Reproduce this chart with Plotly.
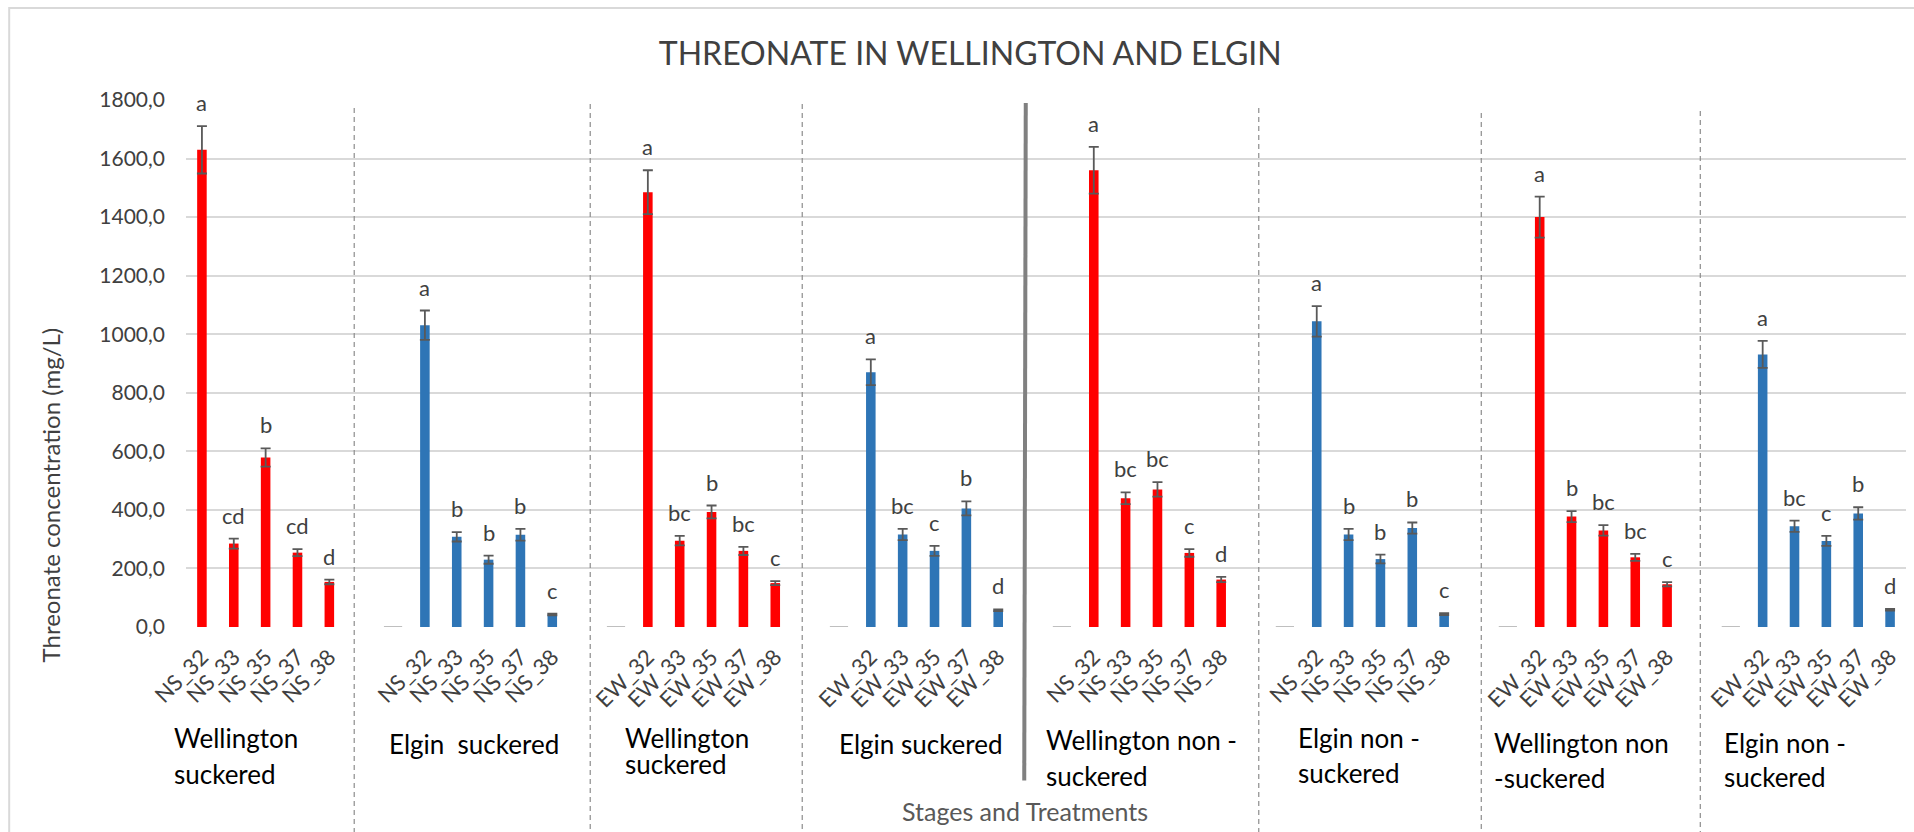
import plotly.graph_objects as go

# ---- data -------------------------------------------------------------
stages_ns = ["NS_32", "NS_33", "NS_35", "NS_37", "NS_38"]
stages_ew = ["EW_32", "EW_33", "EW_35", "EW_37", "EW_38"]

group_labels = [
    ["Wellington", "suckered"],
    ["Elgin  suckered"],
    ["Wellington", "suckered"],
    ["Elgin suckered"],
    ["Wellington non -", "suckered"],
    ["Elgin non -", "suckered"],
    ["Wellington non", "-suckered"],
    ["Elgin non -", "suckered"],
]
group_stages = [stages_ns, stages_ns, stages_ew, stages_ew,
                stages_ns, stages_ns, stages_ew, stages_ew]
group_colors = ["#FF0000", "#2E75B6", "#FF0000", "#2E75B6",
                "#FF0000", "#2E75B6", "#FF0000", "#2E75B6"]

wellington_suckered_ns = [1630, 285, 579, 254, 154]
elgin_suckered_ns = [1031, 308, 230, 315, 43]
wellington_suckered_ew = [1485, 295, 393, 260, 150]
elgin_suckered_ew = [870, 316, 260, 405, 57]
wellington_non_ns = [1560, 440, 470, 253, 162]
elgin_non_ns = [1044, 316, 232, 338, 44]
wellington_non_ew = [1400, 377, 330, 238, 146]
elgin_non_ew = [931, 344, 294, 388, 59]

wellington_suckered_ns_err = [81, 17, 31, 12, 8]
elgin_suckered_ns_err = [50, 16, 14, 20, 3]
wellington_suckered_ew_err = [75, 16, 22, 14, 7]
elgin_suckered_ew_err = [44, 19, 17, 24, 3]
wellington_non_ns_err = [80, 20, 25, 13, 9]
elgin_non_ns_err = [52, 19, 15, 19, 3]
wellington_non_ew_err = [70, 19, 18, 12, 7]
elgin_non_ew_err = [46, 19, 17, 21, 3]

wellington_suckered_ns_sig = ["a", "cd", "b", "cd", "d"]
elgin_suckered_ns_sig = ["a", "b", "b", "b", "c"]
wellington_suckered_ew_sig = ["a", "bc", "b", "bc", "c"]
elgin_suckered_ew_sig = ["a", "bc", "c", "b", "d"]
wellington_non_ns_sig = ["a", "bc", "bc", "c", "d"]
elgin_non_ns_sig = ["a", "b", "b", "b", "c"]
wellington_non_ew_sig = ["a", "b", "bc", "bc", "c"]
elgin_non_ew_sig = ["a", "bc", "c", "b", "d"]

group_values = [wellington_suckered_ns, elgin_suckered_ns, wellington_suckered_ew,
                elgin_suckered_ew, wellington_non_ns, elgin_non_ns,
                wellington_non_ew, elgin_non_ew]
group_errors = [wellington_suckered_ns_err, elgin_suckered_ns_err,
                wellington_suckered_ew_err, elgin_suckered_ew_err,
                wellington_non_ns_err, elgin_non_ns_err,
                wellington_non_ew_err, elgin_non_ew_err]
group_sig = [wellington_suckered_ns_sig, elgin_suckered_ns_sig,
             wellington_suckered_ew_sig, elgin_suckered_ew_sig,
             wellington_non_ns_sig, elgin_non_ns_sig,
             wellington_non_ew_sig, elgin_non_ew_sig]

y_ticks = [0, 200, 400, 600, 800, 1000, 1200, 1400, 1600, 1800]

# ---- layout geometry ---------------------------------------------------
W, H = 1914, 832
M_L, M_R, M_T, M_B = 185.8, 8.3, 100.0, 205.3
PW, PH = W - M_L - M_R, H - M_T - M_B
SLOTS_PER_GROUP = 7          # 5 stages + 2 empty category slots
FONT = "Lato"


def px_x(px):
    return (px - M_L) / PW


def px_y(py):
    return (M_T + PH - py) / PH


fig = go.Figure()

tickvals, ticktext = [], []
empty_slots = []
annotations = []

for g, vals in enumerate(group_values):
    start = g * SLOTS_PER_GROUP
    xs = list(range(start, start + len(vals)))
    tickvals += xs
    ticktext += group_stages[g]
    if g > 0:
        empty_slots.append(start - 1)
    fig.add_trace(go.Bar(
        x=xs, y=vals, width=0.3,
        marker=dict(color=group_colors[g], line=dict(width=0)),
        error_y=dict(type="data", array=group_errors[g], visible=True,
                     color="#595959", thickness=1.8, width=5),
        showlegend=False, hoverinfo="x+y",
    ))
    for x, v, e, s in zip(xs, vals, group_errors[g], group_sig[g]):
        annotations.append(dict(
            x=x, y=v + e, xref="x", yref="y", text=s, showarrow=False,
            yanchor="bottom", yshift=8,
            font=dict(family=FONT, size=22, color="#404040"),
        ))

# faint zero caps on the empty category slots
fig.add_trace(go.Scatter(
    x=empty_slots, y=[0] * len(empty_slots), mode="markers",
    marker=dict(symbol="line-ew", size=13,
                line=dict(color="#BFBFBF", width=2)),
    showlegend=False, hoverinfo="skip",
))

# group captions under the stage labels: (left px, cap-centre px of each line)
caption_pos = [
    (171.7, [737.5, 774.0]),
    (386.7, [744.0]),
    (622.8, [737.5, 763.5]),
    (836.6, [744.0]),
    (1044.2, [740.0, 776.0]),
    (1296.0, [737.5, 772.5]),
    (1491.9, [742.5, 778.0]),
    (1722.0, [742.5, 777.0]),
]
for lines, (left, ys) in zip(group_labels, caption_pos):
    for line, yc in zip(lines, ys):
        annotations.append(dict(
            x=px_x(left), y=px_y(yc), xref="paper", yref="paper",
            text=line, showarrow=False, xanchor="left", yanchor="middle",
            font=dict(family=FONT, size=26, color="#000000"),
        ))

annotations.append(dict(
    x=px_x(50), y=px_y(495), xref="paper", yref="paper",
    text="Threonate concentration (mg/L)", textangle=-90, showarrow=False,
    xanchor="center", yanchor="middle",
    font=dict(family=FONT, size=24, color="#404040"),
))
annotations.append(dict(
    x=px_x(1025), y=px_y(811), xref="paper", yref="paper",
    text="Stages and Treatments", showarrow=False,
    xanchor="center", yanchor="middle",
    font=dict(family=FONT, size=25, color="#595959"),
))

# separators between groups (px positions), thick one splits the treatments
dashed_px = [354.0, 590.0, 802.0, 1258.5, 1481.0, 1700.0]
dashed_top = [108, 104, 104, 108, 113, 111]
shapes = [
    dict(type="rect", xref="paper", yref="paper",
         x0=px_x(9), x1=px_x(1930), y0=px_y(8), y1=px_y(850),
         line=dict(color="#D9D9D9", width=2), layer="below"),
]
for xp, top in zip(dashed_px, dashed_top):
    shapes.append(dict(type="line", xref="paper", yref="paper",
                       x0=px_x(xp), x1=px_x(xp), y0=px_y(top), y1=px_y(832),
                       line=dict(color="#8C8C8C", width=1.2, dash="5px,4px")))
shapes.append(dict(type="line", xref="paper", yref="paper",
                   x0=px_x(1025.5), x1=px_x(1024), y0=px_y(103), y1=px_y(780),
                   line=dict(color="#808080", width=4)))

fig.update_layout(
    width=W, height=H,
    margin=dict(l=M_L, r=M_R, t=M_T, b=M_B, autoexpand=False),
    paper_bgcolor="white", plot_bgcolor="white",
    barmode="overlay",
    separators=",.",
    font=dict(family=FONT, color="#404040"),
    title=dict(text="THREONATE IN WELLINGTON AND ELGIN",
               x=px_x(970), xref="paper", xanchor="center",
               y=1 - 53.5 / H, yref="container", yanchor="middle",
               font=dict(family=FONT, size=32, color="#404040")),
    xaxis=dict(range=[-0.5, len(group_values) * SLOTS_PER_GROUP - 2.5],
               tickmode="array", tickvals=tickvals, ticktext=ticktext,
               tickangle=-45, showgrid=False, zeroline=False, showline=False,
               ticks="", ticklabelstandoff=12,
               tickfont=dict(family=FONT, size=22, color="#404040")),
    yaxis=dict(range=[0, 1800], tickmode="array", tickvals=y_ticks,
               tickformat=".1f", showgrid=True, gridcolor="#D9D9D9",
               gridwidth=2, zeroline=False, showline=False, ticks="",
               ticklabelstandoff=20,
               tickfont=dict(family=FONT, size=21, color="#404040")),
    shapes=shapes,
    annotations=annotations,
)

fig.write_html("out.html")
